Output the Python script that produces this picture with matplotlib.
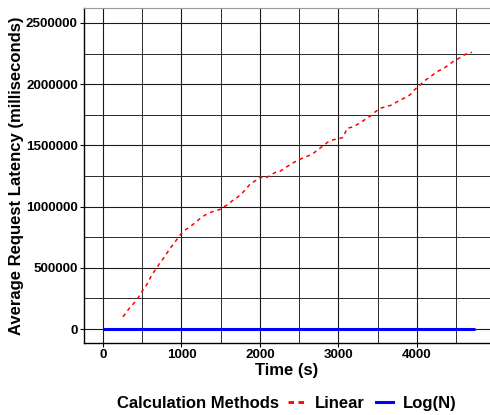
import numpy as np
import matplotlib
matplotlib.use("Agg")
import matplotlib.pyplot as plt
from matplotlib.lines import Line2D

# Linear method: average request latency over time
linear_time = [255, 330, 430, 495, 555, 620, 665, 720, 770, 855, 920, 1000, 1050, 1110,
               1190, 1240, 1300, 1380, 1440, 1490, 1530, 1580, 1660, 1720, 1770, 1830,
               1875, 1950, 2000, 2070, 2130, 2210, 2260, 2330, 2400, 2490, 2560, 2640,
               2700, 2790, 2870, 2930, 3000, 3060, 3100, 3110, 3180, 3230, 3290, 3360,
               3420, 3470, 3530, 3600, 3680, 3730, 3790, 3850, 3910, 3960, 4040, 4100,
               4170, 4220, 4280, 4340, 4400, 4450, 4510, 4560, 4620, 4700]
linear_latency = [100000, 165000, 237000, 305000, 360000, 440000, 482000, 535000, 577000,
                  659000, 714000, 782000, 810000, 836000, 877000, 905000, 931000, 955000,
                  968000, 977000, 995000, 1013000, 1054000, 1080000, 1108000, 1150000,
                  1185000, 1215000, 1242000, 1232000, 1255000, 1285000, 1290000, 1320000,
                  1350000, 1381000, 1400000, 1422000, 1445000, 1490000, 1530000, 1545000,
                  1555000, 1565000, 1626000, 1640000, 1650000, 1667000, 1690000, 1721000,
                  1745000, 1775000, 1803000, 1815000, 1830000, 1850000, 1871000, 1890000,
                  1912000, 1950000, 1993000, 2030000, 2061000, 2085000, 2110000, 2130000,
                  2155000, 2180000, 2203000, 2220000, 2245000, 2260000]

# Log(N) method: stays at ~0
log_time = [0, 4740]
log_latency = [0, 0]

x_ticks = [0, 1000, 2000, 3000, 4000]
y_ticks = [0, 500000, 1000000, 1500000, 2000000, 2500000]

font = "Liberation Sans"
plt.rcParams['font.family'] = [font, 'DejaVu Sans']
plt.rcParams['font.weight'] = 'bold'

fig = plt.figure(figsize=(4.9, 4.15), dpi=100)
ax = fig.add_axes([84 / 490, 72 / 415, 406 / 490, 335 / 415])

ax.plot(log_time, log_latency, color='#0000ff', lw=2.2, solid_capstyle='butt', zorder=3)
ax.plot(linear_time, linear_latency, color='#ff0000', lw=1.1, linestyle=(0, (2.5, 2.5)), zorder=4)

ax.set_xlim(-242, 4930)
ax.set_ylim(-114000, 2622000)
ax.set_xticks(x_ticks)
ax.set_yticks(y_ticks)
ax.set_xticks([500, 1500, 2500, 3500, 4500], minor=True)
ax.set_yticks([250000, 750000, 1250000, 1750000, 2250000], minor=True)
ax.set_xticklabels([str(v) for v in x_ticks])
ax.set_yticklabels([str(v) for v in y_ticks])

ax.grid(True, which='major', color='#1a1a1a', lw=0.8, zorder=0)
ax.grid(True, which='minor', color='#2a2a2a', lw=0.7, zorder=0)
ax.set_axisbelow(True)

ax.tick_params(which='major', length=3, width=0.8, color='black', labelsize=9.6, pad=1.5)
ax.tick_params(which='minor', length=0)
for lbl in ax.get_xticklabels() + ax.get_yticklabels():
    lbl.set_fontweight('bold')

ax.spines['right'].set_visible(False)
ax.spines['top'].set_color('#999999')
ax.spines['top'].set_linewidth(0.8)
ax.spines['left'].set_linewidth(1.0)
ax.spines['bottom'].set_linewidth(1.0)

ax.set_xlabel("Time (s)", fontsize=12, fontweight='bold', labelpad=1)
ax.set_ylabel("Average Request Latency (milliseconds)", fontsize=12, fontweight='bold', labelpad=1)

# legend at the bottom, title on the left
fig.text(117 / 490, 1 - 403 / 415, "Calculation Methods", fontsize=12, fontweight='bold',
         ha='left', va='center')
handles = [Line2D([], [], color='#ff0000', lw=2, linestyle=(0, (2, 1.6))),
           Line2D([], [], color='#0000ff', lw=2.2)]
fig.legend(handles, ["Linear", "Log(N)"], ncol=2, frameon=False,
           loc='center left', bbox_to_anchor=(288 / 490, 1 - 403 / 415),
           prop={'size': 12, 'weight': 'bold'}, handlelength=1.0, handletextpad=0.6,
           columnspacing=0.7, borderaxespad=0, borderpad=0)

fig.savefig("out.png", dpi=100)
